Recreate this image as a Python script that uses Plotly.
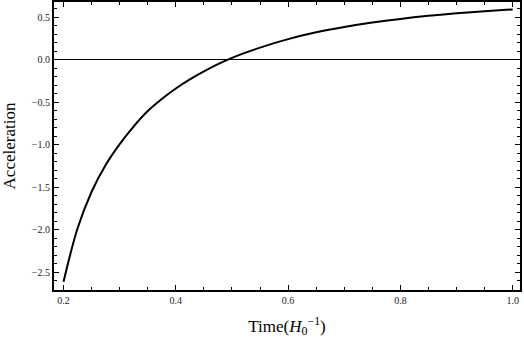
import plotly.graph_objects as go

# curve
time = [0.200, 0.225, 0.250, 0.275, 0.300, 0.325, 0.350, 0.375, 0.400, 0.425,
        0.450, 0.475, 0.500, 0.550, 0.600, 0.650, 0.700, 0.750, 0.800, 0.850,
        0.900, 0.950, 1.000]
accel = [-2.61, -1.98, -1.55, -1.235, -0.99, -0.78, -0.60, -0.458, -0.335, -0.229,
         -0.135, -0.05, 0.025, 0.145, 0.245, 0.325, 0.388, 0.440, 0.483, 0.519,
         0.549, 0.574, 0.595]

x_ticks = [0.2, 0.4, 0.6, 0.8, 1.0]
y_ticks = [0.5, 0.0, -0.5, -1.0, -1.5, -2.0, -2.5]

fig = go.Figure()

fig.add_trace(go.Scatter(
    x=time, y=accel,
    mode="lines",
    line_shape="spline",
    line=dict(color="black", width=2),
    showlegend=False,
))

axis_common = dict(
    showline=True, linecolor="black", linewidth=2, mirror="ticks",
    ticks="inside", ticklen=5, tickwidth=1, tickcolor="black",
    showgrid=False, automargin=False, ticklabeloverflow="allow",
    tickfont=dict(family="Liberation Serif", size=10, color="#222"),
    title_font=dict(family="Liberation Serif", size=17, color="black"),
)

fig.update_xaxes(
    range=[0.183, 1.013],
    tickvals=x_ticks, tickformat=".1f",
    minor=dict(dtick=0.05, ticks="inside", ticklen=3, tickcolor="black"),
    zeroline=False,
    title_text="Time(<i>H</i><sub>0</sub><sup>−1</sup>)",
    **axis_common,
)

fig.update_yaxes(
    range=[-2.706, 0.682],
    tickvals=y_ticks, tickformat=".1f",
    minor=dict(dtick=0.1, ticks="inside", ticklen=3, tickcolor="black"),
    zeroline=True, zerolinecolor="black", zerolinewidth=1,
    title_text="Acceleration",
    **axis_common,
)

fig.update_layout(
    width=524, height=341,
    margin=dict(l=54, r=4, t=2, b=51),
    plot_bgcolor="white",
    paper_bgcolor="white",
)

# drop the default page margin so the figure sits at the window's corner
fig.write_html(
    "out.html",
    config={"displayModeBar": False},
    post_script="document.body.style.margin='0';",
)
